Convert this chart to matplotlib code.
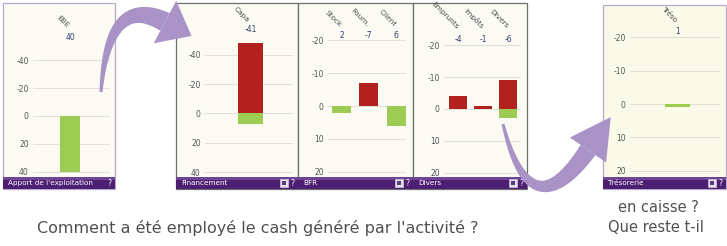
import numpy as np
import matplotlib.pyplot as plt
from matplotlib.patches import Rectangle, Polygon
from matplotlib.transforms import Affine2D, blended_transform_factory

W, H = 727, 246

# --- données ---
ebe_cats = ['EBE']
ebe_neg = [0]
ebe_pos = [40]
ebe_tot = ['40']

fin_cats = ['Capa']
fin_neg = [-48]
fin_pos = [7]
fin_tot = ['-41']

bfr_cats = ['Stock', 'Fourn.', 'Client']
bfr_neg = [0, -7, 0]
bfr_pos = [2, 0, 6]
bfr_tot = ['2', '-7', '6']

div_cats = ['Emprunts', 'Impôts', 'Divers']
div_neg = [-4, -1, -9]
div_pos = [0, 0, 3]
div_tot = ['-4', '-1', '-6']

tre_cats = ['Tréso']
tre_neg = [0]
tre_pos = [1]
tre_tot = ['1']

ticks_big = [-40, -20, 0, 20, 40]
ticks_small = [-20, -10, 0, 10, 20]

RED = '#b3201e'
GREEN = '#9ccc52'
PURPLE = '#4d1f72'
ARROW = '#a992c6'

fig = plt.figure(figsize=(W / 100, H / 100), dpi=100)
pix = Affine2D().scale(1 / W, -1 / H).translate(0, 1) + fig.transFigure

panels = [
    dict(title='Apport de l\'exploitation', cats=ebe_cats, neg=ebe_neg, pos=ebe_pos, tot=ebe_tot,
         box=(3, 115, 3), axx=(33, 110), ylim=(43.2, -81.3), ticks=ticks_big,
         xlim=(-1.12, 1.21), width=0.6, lab_y=28, val_y=38, bg='#fbfbf4', edge='#b9aacb', icon=False),
    dict(title='Financement', cats=fin_cats, neg=fin_neg, pos=fin_pos, tot=fin_tot,
         box=(176, 298, 3), axx=(205, 293), ylim=(42.7, -75.3), ticks=ticks_big,
         xlim=(-1.3, 1.21), width=0.71, lab_y=23, val_y=30, bg='#fbfbf4', edge='#6e6e6e', icon=True),
    dict(title='BFR', cats=bfr_cats, neg=bfr_neg, pos=bfr_pos, tot=bfr_tot,
         box=(298, 413, 3), axx=(328, 406), ylim=(21.3, -31.4), ticks=ticks_small,
         xlim=(-0.49, 2.35), width=0.69, lab_y=27, val_y=35, bg='#fbfbf4', edge='#6e6e6e', icon=True),
    dict(title='Divers', cats=div_cats, neg=div_neg, pos=div_pos, tot=div_tot,
         box=(413, 527, 3), axx=(444, 521), ylim=(21.1, -33.3), ticks=ticks_small,
         xlim=(-0.56, 2.5), width=0.72, lab_y=29, val_y=40, bg='#fbfbf4', edge='#6e6e6e', icon=True),
    dict(title='Trésorerie', cats=tre_cats, neg=tre_neg, pos=tre_pos, tot=tre_tot,
         box=(603, 726, 5), axx=(630, 720), ylim=(21.6, -29.7), ticks=ticks_small,
         xlim=(-1.36, 1.21), width=0.71, lab_y=22, val_y=32, bg='#fafae8', edge='#b9aacb', icon=True),
]

BAR_TOP, BAR_BOT = 177, 189

for p in panels:
    x0, x1, top = p['box']
    # fond du panneau
    fig.patches.append(Rectangle((x0, top), x1 - x0, BAR_BOT - top, transform=pix,
                                 facecolor=p['bg'], edgecolor=p['edge'], linewidth=0.9, zorder=-2))
    # barre de titre
    fig.patches.append(Rectangle((x0, BAR_TOP), x1 - x0, BAR_BOT - BAR_TOP, transform=pix,
                                 facecolor=PURPLE, edgecolor='none', zorder=-1))
    fig.patches.append(Rectangle((x0, BAR_TOP), x1 - x0, 3, transform=pix,
                                 facecolor='#6d4592', edgecolor='none', zorder=-1))
    fig.text(x0 + 5, (BAR_TOP + BAR_BOT) / 2, p['title'], transform=pix, color='white',
             fontsize=5.2, va='center', ha='left', zorder=2)
    fig.text(x1 - 6, (BAR_TOP + BAR_BOT) / 2, '?', transform=pix, color='white',
             fontsize=5.5, va='center', ha='center', zorder=2)
    if p['icon']:
        fig.patches.append(Rectangle((x1 - 18, 179), 8, 8, transform=pix,
                                     facecolor='#e8e0f0', edgecolor='#d0c4dc', linewidth=0.5, zorder=0))
        fig.patches.append(Rectangle((x1 - 16, 181), 4, 4, transform=pix,
                                     facecolor='#5a3a7a', edgecolor='none', zorder=0.5))

    # zone de données
    ax0, ax1 = p['axx']
    ax = fig.add_axes([ax0 / W, 1 - 176 / H, (ax1 - ax0) / W, (176 - top) / H])
    ax.set_zorder(3)
    ax.set_facecolor('none')
    x = np.arange(len(p['cats']))
    ax.bar(x, p['neg'], width=p['width'], color=RED, zorder=3)
    ax.bar(x, p['pos'], width=p['width'], color=GREEN, zorder=3)
    ax.set_xlim(*p['xlim'])
    ax.set_ylim(*p['ylim'])
    ax.set_yticks(p['ticks'])
    ax.set_yticklabels([str(t) for t in p['ticks']])
    ax.set_xticks([])
    ax.tick_params(axis='y', length=0, pad=3, labelsize=5.5, labelcolor='#555555')
    ax.grid(axis='y', color='#dcdcd4', linewidth=0.6)
    ax.set_axisbelow(True)
    for s in ax.spines.values():
        s.set_visible(False)

    tr = blended_transform_factory(ax.transData, pix)
    for i, (c, t) in enumerate(zip(p['cats'], p['tot'])):
        ax.text(i, p['val_y'], t, transform=tr, fontsize=5.5, color='#34406e',
                ha='center', va='center', clip_on=False)
        ax.text(i - 0.1, p['lab_y'], c, transform=tr, fontsize=5.3, color='#4a4a4a',
                rotation=-45, rotation_mode='anchor', ha='right', va='baseline', clip_on=False)


def fat_arrow(p0, c, p1, w0, w1, hw, hl):
    t = np.linspace(0, 1, 60)[:, None]
    P0, C, P1 = np.array(p0, float), np.array(c, float), np.array(p1, float)
    pts = (1 - t) ** 2 * P0 + 2 * (1 - t) * t * C + t ** 2 * P1
    d = 2 * (1 - t) * (C - P0) + 2 * t * (P1 - C)
    n = np.column_stack([-d[:, 1], d[:, 0]])
    n /= np.linalg.norm(n, axis=1)[:, None]
    wid = (w0 + (w1 - w0) * t) / 2
    body = np.vstack([pts + n * wid, (pts - n * wid)[::-1]])
    u = (P1 - C) / np.linalg.norm(P1 - C)
    v = np.array([-u[1], u[0]])
    head = [P1 + v * hw, P1 + u * hl, P1 - v * hw]
    for poly in (body, head):
        fig.patches.append(Polygon(poly, closed=True, transform=pix, facecolor=ARROW,
                                   edgecolor='none', zorder=5))


fat_arrow((101, 92), (108, -8), (165, 22), 3, 20, 24, 30)
fat_arrow((503, 124), (530, 234), (588, 150), 3, 18, 22, 40)

fig.text(258, 228, "Comment a été employé le cash généré par l'activité ?", transform=pix,
         fontsize=11.5, color='#505050', ha='center', va='center')
fig.text(656, 228, 'Que reste t-il', transform=pix, fontsize=10.5, color='#505050',
         ha='center', va='center')
fig.text(658, 207, 'en caisse ?', transform=pix, fontsize=10.5, color='#505050',
         ha='center', va='center')

fig.savefig('out.png', dpi=100, facecolor='white')
